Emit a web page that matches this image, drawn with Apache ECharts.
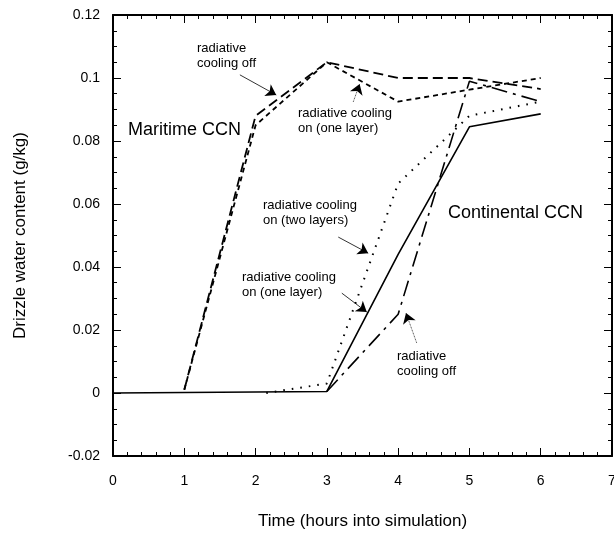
<!DOCTYPE html>
<html>
<head>
<meta charset="utf-8">
<script src="https://cdn.jsdelivr.net/npm/echarts@6/dist/echarts.min.js"></script>
<style>
  html, body { margin: 0; padding: 0; background: #fff; }
  #container { width: 614px; height: 533px; }
</style>
</head>
<body>
<div id="container"></div>
<script>
// values
const xTicks = [0, 1, 2, 3, 4, 5, 6, 7];
const yTicks = [-0.02, 0, 0.02, 0.04, 0.06, 0.08, 0.1, 0.12];

const hoursMaritime = [1, 2, 3, 4, 5, 6];
const maritimeOff = [0.001, 0.088, 0.105, 0.100, 0.100, 0.0965];
const maritimeOnOne = [0.001, 0.085, 0.105, 0.0925, 0.0963, 0.100];

const hoursContOne = [0, 3, 4, 5, 6];
const contOnOne = [0, 0.0005, 0.044, 0.0845, 0.0886];

const hoursContTwo = [2.15, 3, 4, 5, 6];
const contOnTwo = [0, 0.003, 0.0665, 0.088, 0.0925];

const hoursContOff = [3, 4, 5, 6];
const contOff = [0.0005, 0.025, 0.099, 0.0925];

// annotation arrows, [tail, head] in data units
const arrows = [
  [[1.78, 0.101], [2.29, 0.0946], 'solid'],
  [[3.37, 0.0924], [3.46, 0.0981], 'dotted'],
  [[3.16, 0.0495], [3.58, 0.0444], 'solid'],
  [[3.21, 0.0317], [3.56, 0.0257], 'solid'],
  [[4.26, 0.0159], [4.11, 0.0254], 'dotted']
];

const FONT = '"Liberation Sans", Arial, Helvetica, sans-serif';

function pairs(xs, ys) {
  return xs.map((x, i) => [x, ys[i]]);
}

var dom = document.getElementById('container');
var myChart = echarts.init(dom, null, { renderer: 'canvas' });

function lineSeries(name, xs, ys, dash, width) {
  return {
    name: name,
    type: 'line',
    data: pairs(xs, ys),
    symbol: 'none',
    silent: true,
    animation: false,
    lineStyle: { color: '#000', width: width || 1.6, type: dash },
    z: 3
  };
}

const tickCommon = {
  inside: true,
  length: 8,
  lineStyle: { color: '#000', width: 1 }
};

function xAxisDef(pos, showLabel) {
  return {
    type: 'value',
    position: pos,
    min: 0, max: 7, interval: 1,
    name: showLabel ? 'Time (hours into simulation)' : '',
    nameLocation: 'middle',
    nameGap: 57,
    nameTextStyle: { fontFamily: FONT, fontSize: 17, color: '#000' },
    axisLine: { show: true, onZero: false, lineStyle: { color: '#000', width: 2 } },
    axisTick: tickCommon,
    minorTick: { show: true, splitNumber: 5, length: 4, lineStyle: { color: '#000', width: 1 } },
    splitLine: { show: false },
    axisLabel: {
      show: showLabel, margin: 18,
      fontFamily: FONT, fontSize: 14, color: '#000',
      formatter: v => String(v)
    }
  };
}

function yAxisDef(pos, showLabel) {
  return {
    type: 'value',
    position: pos,
    min: -0.02, max: 0.12, interval: 0.02,
    name: showLabel ? 'Drizzle water content (g/kg)' : '',
    nameLocation: 'middle',
    nameGap: 84,
    nameTextStyle: { fontFamily: FONT, fontSize: 17, color: '#000' },
    axisLine: { show: true, onZero: false, lineStyle: { color: '#000', width: 2 } },
    axisTick: tickCommon,
    minorTick: { show: true, splitNumber: 4, length: 4, lineStyle: { color: '#000', width: 1 } },
    splitLine: { show: false },
    axisLabel: {
      show: showLabel, margin: 13,
      fontFamily: FONT, fontSize: 14, color: '#000',
      formatter: v => String(+v.toFixed(2))
    }
  };
}

const arrowLines = arrows.map(a => [
  { coord: a[0], lineStyle: { type: a[2] } },
  { coord: a[1] }
]);

var option = {
  animation: false,
  backgroundColor: '#fff',
  grid: { left: 113, right: 2, top: 15, bottom: 77, containLabel: false, outerBoundsMode: 'none' },
  xAxis: [xAxisDef('bottom', true), xAxisDef('top', false)],
  yAxis: [yAxisDef('left', true), yAxisDef('right', false)],
  series: [
    lineSeries('Maritime, radiative cooling off', hoursMaritime, maritimeOff, [10, 5], 1.8),
    lineSeries('Maritime, radiative cooling on (one layer)', hoursMaritime, maritimeOnOne, [5, 4], 1.8),
    lineSeries('Continental, radiative cooling on (one layer)', hoursContOne, contOnOne, 'solid', 1.6),
    lineSeries('Continental, radiative cooling on (two layers)', hoursContTwo, contOnTwo, [1.6, 7], 2),
    Object.assign(
      lineSeries('Continental, radiative cooling off', hoursContOff, contOff, [16, 6, 3, 6], 1.6),
      {
        markLine: {
          silent: true,
          animation: false,
          symbol: ['none', 'arrow'],
          symbolSize: 10,
          label: { show: false },
          lineStyle: { color: '#000', width: 0.8 },
          emphasis: { disabled: true },
          data: arrowLines
        }
      }
    )
  ],
  graphic: [
    { type: 'text', x: 128, y: 130, style: { text: 'Maritime CCN', font: '18px ' + FONT, fill: '#000', verticalAlign: 'middle' } },
    { type: 'text', x: 448, y: 213, style: { text: 'Continental CCN', font: '18px ' + FONT, fill: '#000', verticalAlign: 'middle' } },
    { type: 'text', x: 197, y: 56, style: { text: 'radiative\ncooling off', font: '13px ' + FONT, fill: '#000', verticalAlign: 'middle', lineHeight: 15 } },
    { type: 'text', x: 298, y: 121, style: { text: 'radiative cooling\non (one layer)', font: '13px ' + FONT, fill: '#000', verticalAlign: 'middle', lineHeight: 15 } },
    { type: 'text', x: 263, y: 213, style: { text: 'radiative cooling\non (two layers)', font: '13px ' + FONT, fill: '#000', verticalAlign: 'middle', lineHeight: 15 } },
    { type: 'text', x: 242, y: 285, style: { text: 'radiative cooling\non (one layer)', font: '13px ' + FONT, fill: '#000', verticalAlign: 'middle', lineHeight: 15 } },
    { type: 'text', x: 397, y: 364, style: { text: 'radiative\ncooling off', font: '13px ' + FONT, fill: '#000', verticalAlign: 'middle', lineHeight: 15 } }
  ]
};

myChart.setOption(option);
window.addEventListener('resize', myChart.resize);
</script>
</body>
</html>
